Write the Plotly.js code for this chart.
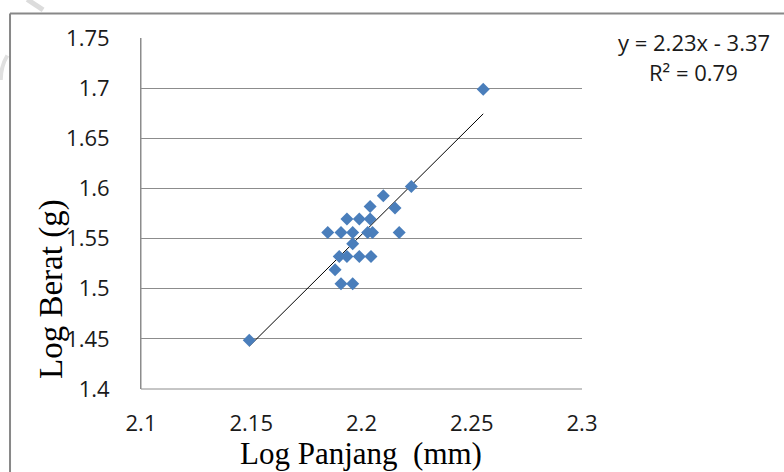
<!DOCTYPE html>
<html>
<head>
<meta charset="utf-8">
<script src="https://cdn.plot.ly/plotly-3.0.1.min.js"></script>
<style>html,body{margin:0;padding:0;background:#fff;}#chart{width:784px;height:472px;}</style>
</head>
<body>
<div id="chart"></div>
<script>
// Data
const logPanjang = [2.1491, 2.2552, 2.2226, 2.2099, 2.2152, 2.2039, 2.1934, 2.1990, 2.2039,
  2.1847, 2.1907, 2.1960, 2.2028, 2.2050, 2.2171, 2.1960, 2.1899, 2.1934, 2.1990, 2.2043,
  2.1880, 2.1907, 2.1960];
const logBerat = [1.4485, 1.6990, 1.6020, 1.5926, 1.5804, 1.5820, 1.5694, 1.5694, 1.5694,
  1.5560, 1.5560, 1.5560, 1.5560, 1.5560, 1.5560, 1.5448, 1.5322, 1.5322, 1.5322, 1.5322,
  1.5190, 1.5050, 1.5050];
const xTickVals = [2.1, 2.15, 2.2, 2.25, 2.3];
const xTickText = ["2.1", "2.15", "2.2", "2.25", "2.3"];
const yTickVals = [1.4, 1.45, 1.5, 1.55, 1.6, 1.65, 1.7, 1.75];
const yTickText = ["1.4", "1.45", "1.5", "1.55", "1.6", "1.65", "1.7", "1.75"];
const equationText = "y = 2.23x - 3.37";
const r2Text = "R\u00b2 = 0.79";

// least-squares trendline over the data range
const n = logPanjang.length;
const mx = logPanjang.reduce((a, b) => a + b, 0) / n;
const my = logBerat.reduce((a, b) => a + b, 0) / n;
let sxy = 0, sxx = 0;
for (let i = 0; i < n; i++) { sxy += (logPanjang[i] - mx) * (logBerat[i] - my); sxx += (logPanjang[i] - mx) ** 2; }
const slope = sxy / sxx, intercept = my - slope * mx;
const xmin = Math.min(...logPanjang), xmax = Math.max(...logPanjang);
const trendX = [xmin, xmax];
const trendY = trendX.map(x => slope * x + intercept);

const tickFont = {family: "Open Sans, sans-serif", size: 22, color: "#1a1a1a"};
const titleFont = {family: "Liberation Serif, serif", size: 31, color: "#000"};
const eqFont = {family: "Open Sans, sans-serif", size: 22, color: "#1a1a1a"};

const data = [
  {x: trendX, y: trendY, mode: "lines", type: "scatter", line: {color: "#000", width: 1}, hoverinfo: "skip"},
  {x: logPanjang, y: logBerat, mode: "markers", type: "scatter",
   marker: {symbol: "diamond", size: 10, color: "#4a7ebb", line: {width: 0}}}
];

const layout = {
  width: 784, height: 472,
  margin: {l: 141, r: 202, t: 38, b: 83},
  paper_bgcolor: "#fff", plot_bgcolor: "#fff",
  showlegend: false,
  xaxis: {range: [2.1, 2.3], tickvals: xTickVals, ticktext: xTickText, tickfont: tickFont,
    showgrid: false, zeroline: false, showline: false, ticks: "", ticklabelstandoff: 19},
  yaxis: {range: [1.4, 1.75], tickvals: yTickVals, ticktext: yTickText, tickfont: tickFont,
    showgrid: true, gridcolor: "#8c8c8c", gridwidth: 1, zeroline: false,
    showline: true, linecolor: "#8c8c8c", linewidth: 1, ticks: "", ticklabelstandoff: 26},
  annotations: [
    {text: "Log Panjang  (mm)", xref: "paper", yref: "paper", x: 0.499, y: 0, yshift: -64,
     xanchor: "center", yanchor: "middle", showarrow: false, font: titleFont},
    {text: "Log Berat (g)", xref: "paper", yref: "paper", x: 0, xshift: -89, y: 0.285,
     xanchor: "center", yanchor: "middle", textangle: -90, showarrow: false,
     font: {family: "Liberation Serif, serif", size: 33, color: "#000"}},
    {text: equationText, xref: "paper", yref: "paper", x: 1, xshift: 112, y: 1, yshift: -4,
     xanchor: "center", yanchor: "middle", showarrow: false, font: eqFont},
    {text: r2Text, xref: "paper", yref: "paper", x: 1, xshift: 111, y: 1, yshift: -34,
     xanchor: "center", yanchor: "middle", showarrow: false, font: eqFont}
  ],
  shapes: [
    {type: "line", xref: "paper", yref: "paper", x0: 0, x1: 0, y0: 0, y1: 1, line: {color: "#8c8c8c", width: 1}},
    {type: "line", xref: "paper", yref: "paper", x0: 0, x1: 1, y0: 0, y1: 0, line: {color: "#8c8c8c", width: 1}},
    {type: "path", xref: "paper", yref: "paper",
     path: "M -0.297,1.07 L -0.297,-0.3 M -0.297,1.07 L 1.6,1.07",
     line: {color: "#888", width: 2}},
    {type: "path", xref: "paper", yref: "paper",
     path: "M -0.258,1.11 L -0.222,1.08",
     line: {color: "#dcdcdc", width: 5}},
    {type: "path", xref: "paper", yref: "paper",
     path: "M -0.303,0.95 Q -0.318,0.92 -0.318,0.88",
     line: {color: "#e0e0e0", width: 4}}
  ]
};

Plotly.newPlot("chart", data, layout, {displayModeBar: false, staticPlot: true});
</script>
</body>
</html>
